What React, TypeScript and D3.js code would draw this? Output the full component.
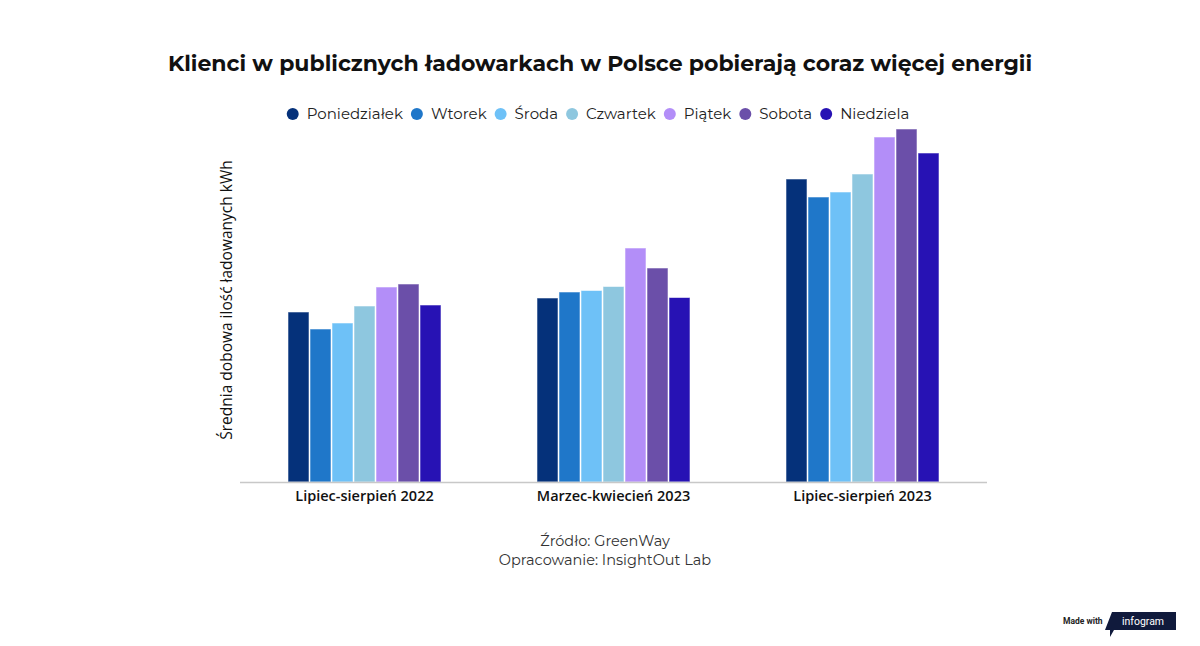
import { useEffect, useRef } from 'react';
import * as d3 from 'd3';

const periods = ['Lipiec-sierpień 2022', 'Marzec-kwiecień 2023', 'Lipiec-sierpień 2023'];
const days = ['Poniedziałek', 'Wtorek', 'Środa', 'Czwartek', 'Piątek', 'Sobota', 'Niedziela'];
const dayColors = ['#05317a', '#1f77c9', '#6ec1f7', '#8ec7df', '#b38ef8', '#6b4fa9', '#2712b4'];

// average daily kWh per day of week (approx.)
const values2022Summer = [17.0, 15.3, 15.9, 17.6, 19.5, 19.8, 17.7];
const values2023Spring = [18.4, 19.0, 19.15, 19.55, 23.4, 21.4, 18.45];
const values2023Summer = [30.3, 28.5, 29.0, 30.8, 34.5, 35.3, 32.9];
const seriesByPeriod = [values2022Summer, values2023Spring, values2023Summer];

export default function App() {
  const svgRef = useRef<SVGSVGElement>(null);

  useEffect(() => {
    if (!svgRef.current) return;
    const svg = d3.select(svgRef.current);
    svg.selectAll('*').remove();

    const width = 1200;
    const height = 646;
    const margin = { left: 240, right: 213, top: 82, bottom: 164 };
    const baseline = height - margin.bottom;

    svg.attr('width', width).attr('height', height);

    // Title
    svg
      .append('text')
      .attr('x', 600)
      .attr('y', 71)
      .attr('text-anchor', 'middle')
      .attr('font-family', 'Montserrat, "Open Sans", sans-serif')
      .attr('font-weight', 700)
      .attr('font-size', '22px')
      .attr('fill', '#111')
      .text('Klienci w publicznych ładowarkach w Polsce pobierają coraz więcej energii');

    // Legend, laid out from measured text widths and centred
    const legendG = svg.append('g');
    const legend = legendG
      .selectAll('.legend')
      .data(days)
      .enter()
      .append('g')
      .attr('class', 'legend');
    legend
      .append('circle')
      .attr('r', 6)
      .attr('fill', (d, i) => dayColors[i]);
    legend
      .append('text')
      .attr('x', 14)
      .attr('dy', '0.35em')
      .attr('font-family', 'Montserrat, "Open Sans", sans-serif')
      .attr('font-size', '15px')
      .attr('fill', '#222')
      .text((d) => d);
    const gap = 8;
    let cursor = 0;
    legend.each(function () {
      const item = d3.select(this);
      const tw = (item.select('text').node() as SVGTextElement).getComputedTextLength();
      item.attr('transform', `translate(${cursor + 6}, 0)`);
      cursor += 6 + 14 + tw + gap;
    });
    const legendWidth = cursor - gap;
    legendG.attr('transform', `translate(${598 - legendWidth / 2}, 114)`);

    // Scales
    const x0 = d3
      .scaleBand()
      .domain(periods)
      .range([margin.left, width - margin.right])
      .padding(0);
    const x1 = d3
      .scaleBand()
      .domain(days)
      .range([47.5, x0.bandwidth() - 47.5])
      .padding(0);
    const y = d3.scaleLinear().domain([0, 40]).range([baseline, margin.top]);

    // Bars
    const groups = svg
      .selectAll('.group')
      .data(periods)
      .enter()
      .append('g')
      .attr('class', 'group')
      .attr('transform', (d) => `translate(${x0(d)}, 0)`);

    groups
      .selectAll('rect')
      .data((d, gi) => seriesByPeriod[gi].map((v, i) => ({ day: days[i], value: v, i })))
      .enter()
      .append('rect')
      .attr('x', (d) => x1(d.day)! + 0.5)
      .attr('y', (d) => y(d.value))
      .attr('width', x1.bandwidth() - 1)
      .attr('height', (d) => baseline - y(d.value))
      .attr('fill', (d) => dayColors[d.i])
      .attr('stroke', 'rgba(255,255,255,0.55)')
      .attr('stroke-width', 1);

    // Baseline
    svg
      .append('line')
      .attr('x1', margin.left)
      .attr('x2', width - margin.right)
      .attr('y1', baseline + 0.5)
      .attr('y2', baseline + 0.5)
      .attr('stroke', '#c8c8c8')
      .attr('stroke-width', 1.5);

    // Category labels
    svg
      .selectAll('.cat-label')
      .data(periods)
      .enter()
      .append('text')
      .attr('class', 'cat-label')
      .attr('x', (d) => x0(d)! + x0.bandwidth() / 2)
      .attr('y', baseline + 19)
      .attr('text-anchor', 'middle')
      .attr('font-family', '"Open Sans", sans-serif')
      .attr('font-weight', 600)
      .attr('font-size', '14.5px')
      .attr('fill', '#111')
      .text((d) => d);

    // Y-axis title
    svg
      .append('text')
      .attr('transform', 'translate(232, 300) rotate(-90)')
      .attr('text-anchor', 'middle')
      .attr('font-family', '"Open Sans", sans-serif')
      .attr('font-size', '15.5px')
      .attr('fill', '#111')
      .text('Średnia dobowa ilość ładowanych kWh');

    // Source
    const source = ['Źródło: GreenWay', 'Opracowanie: InsightOut Lab'];
    svg
      .selectAll('.source')
      .data(source)
      .enter()
      .append('text')
      .attr('class', 'source')
      .attr('x', 605)
      .attr('y', (d, i) => 546 + i * 19)
      .attr('text-anchor', 'middle')
      .attr('font-family', 'Montserrat, "Open Sans", sans-serif')
      .attr('font-size', '14.5px')
      .attr('fill', '#333')
      .text((d) => d);

    // Made with infogram
    svg
      .append('text')
      .attr('x', 1063)
      .attr('y', 624)
      .attr('font-family', 'Roboto, sans-serif')
      .attr('font-weight', 700)
      .attr('font-size', '8.5px')
      .attr('fill', '#222')
      .text('Made with');
    svg
      .append('path')
      .attr('d', 'M1112,612 L1176,612 L1176,630 L1114,630 L1110,637 L1110,630 L1105,630 Z')
      .attr('fill', '#101a3c');
    svg
      .append('text')
      .attr('x', 1143)
      .attr('y', 625)
      .attr('text-anchor', 'middle')
      .attr('font-family', 'Roboto, sans-serif')
      .attr('font-size', '10.5px')
      .attr('fill', '#fff')
      .text('infogram');
  }, []);

  return (
    <div style={{ position: 'absolute', left: 0, top: 0 }}>
      <svg ref={svgRef} style={{ display: 'block', background: '#fff' }}></svg>
    </div>
  );
}
